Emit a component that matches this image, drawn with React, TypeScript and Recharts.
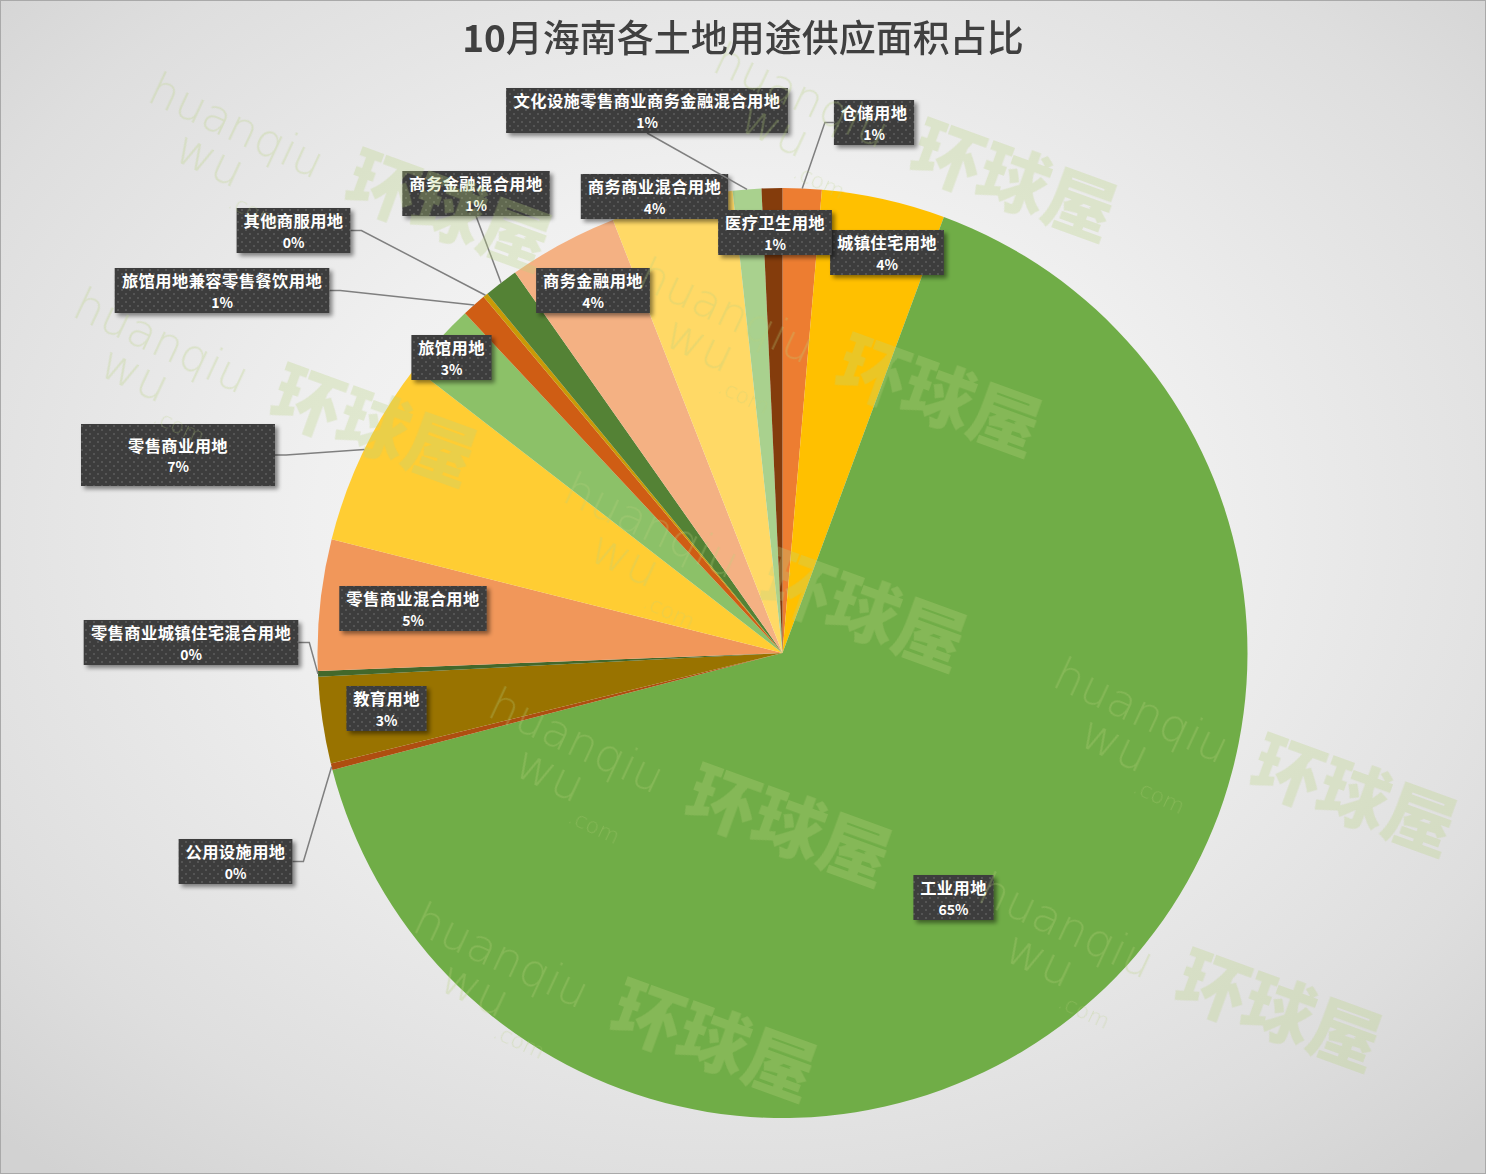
import React from 'react';
import { PieChart, Pie, Cell } from 'recharts';

// ---- data ----
const categories = [
  '仓储用地',
  '城镇住宅用地',
  '工业用地',
  '公用设施用地',
  '教育用地',
  '零售商业城镇住宅混合用地',
  '零售商业混合用地',
  '零售商业用地',
  '旅馆用地',
  '旅馆用地兼容零售餐饮用地',
  '其他商服用地',
  '商务金融混合用地',
  '商务金融用地',
  '商务商业混合用地',
  '文化设施零售商业商务金融混合用地',
  '医疗卫生用地',
];
const shares = [1.35, 4.29, 65.3, 0.23, 3.0, 0.2, 4.55, 6.55, 2.55, 0.85, 0.17, 1.19, 3.81, 4.23, 0.99, 0.72];

const title = '10月海南各土地用途供应面积占比';

// ---- styles / layout ----
const colors = [
  '#ED7D31', '#FFC000', '#70AD47', '#AE4E10', '#997300', '#43682B',
  '#F1975A', '#FFCD33', '#8CC168', '#CF5D14', '#C99A06', '#548235',
  '#F4B183', '#FFD966', '#A9D18E', '#843C0C',
];

type Box = { cx: number; top: number; side: 'left' | 'right' | 'bottom' | null; w?: number; h?: number };
const labelBoxes: Box[] = [
  { cx: 874, top: 100, side: 'left' },
  { cx: 887, top: 230, side: null },
  { cx: 953.5, top: 875, side: null },
  { cx: 235.5, top: 839, side: 'right' },
  { cx: 386.5, top: 686, side: null },
  { cx: 191, top: 620, side: 'right' },
  { cx: 413, top: 586, side: null },
  { cx: 178, top: 424, side: 'right', w: 194, h: 62 },
  { cx: 451.5, top: 335, side: null },
  { cx: 222, top: 268, side: 'right' },
  { cx: 293.5, top: 208, side: 'right' },
  { cx: 476, top: 171, side: 'bottom' },
  { cx: 593, top: 268, side: null },
  { cx: 654.5, top: 174, side: null },
  { cx: 647, top: 88, side: 'bottom' },
  { cx: 775, top: 210, side: null },
];

const data = categories.map((name, i) => ({ name, value: shares[i] }));

const W = 1486;
const H = 1174;
const RAD = Math.PI / 180;
const CJK = '"Noto Sans CJK SC", "Noto Sans", sans-serif';

const renderLabel = (props: any) => {
  const { cx, cy, midAngle, outerRadius, percent, index } = props;
  const box = labelBoxes[index];
  const name = categories[index];
  const w = box.w ?? name.length * 16.8 + 13;
  const h = box.h ?? 45;
  const x0 = box.cx - w / 2;
  const y0 = box.top;
  const px = cx + outerRadius * Math.cos(-midAngle * RAD);
  const py = cy + outerRadius * Math.sin(-midAngle * RAD);
  let leader: string | null = null;
  if (box.side === 'left') {
    const sy = y0 + h / 2;
    leader = `M${x0},${sy} L${x0 - 9},${sy} L${px},${py}`;
  } else if (box.side === 'right') {
    const sy = y0 + h / 2;
    leader = `M${x0 + w},${sy} L${x0 + w + 11},${sy} L${px},${py}`;
  } else if (box.side === 'bottom') {
    leader = `M${box.cx},${y0 + h} L${px},${py}`;
  }
  return (
    <g key={`lbl-${index}`}>
      {index === 0 && (
        <defs>
          <pattern id="dotPat" x="0" y="0" width="8" height="8" patternUnits="userSpaceOnUse">
            <rect x="0" y="0" width="8" height="8" fill="#3d3d3d" />
            <rect x="1" y="1" width="2" height="2" fill="#545454" />
            <rect x="5" y="5" width="2" height="2" fill="#545454" />
          </pattern>
          <filter id="lblShadow" x="-10%" y="-20%" width="130%" height="160%">
            <feDropShadow dx="3" dy="3" stdDeviation="2" floodColor="#000" floodOpacity="0.45" />
          </filter>
        </defs>
      )}
      {leader && <path d={leader} stroke="#7f7f7f" strokeWidth={1.5} fill="none" />}
      <rect x={x0} y={y0} width={w} height={h} fill="url(#dotPat)" filter="url(#lblShadow)" />
      <text
        x={box.cx}
        y={y0 + h / 2 - 10.5}
        textAnchor="middle"
        dominantBaseline="central"
        fill="#ffffff"
        fontFamily={CJK}
        fontWeight={700}
        fontSize={16.3}
        letterSpacing={0.4}
      >
        {name}
      </text>
      <text
        x={box.cx}
        y={y0 + h / 2 + 11}
        textAnchor="middle"
        dominantBaseline="central"
        fill="#ffffff"
        fontFamily={CJK}
        fontWeight={700}
        fontSize={14}
      >
        {`${Math.round(percent * 100)}%`}
      </text>
    </g>
  );
};

const Watermarks = () => {
  const units: { x: number; y: number }[] = [];
  for (let i = -1; i <= 3; i++) {
    for (let j = -1; j <= 6; j++) {
      const x = 230 + i * 565 - j * 75;
      const y = 140 - i * 30 + j * 215;
      // keep only the repeats that lie fully inside the frame
      if (x - 125 < 0 || x + 340 > W || y - 80 < 0 || y + 170 > H) continue;
      units.push({ x, y });
    }
  }
  return (
    <g fill="#b9d27f" opacity={0.3} style={{ pointerEvents: 'none' }}>
      {units.map((u, k) => (
        <g key={k}>
          <g transform={`translate(${u.x},${u.y}) rotate(25)`}>
            <text x={0} y={0} textAnchor="middle" fontFamily='"DejaVu Sans", sans-serif' fontWeight={200} fontSize={46}>
              huanqiu
            </text>
            <text x={-10} y={42} textAnchor="middle" fontFamily='"DejaVu Sans", sans-serif' fontWeight={200} fontSize={48}>
              wu
            </text>
            <text x={52} y={62} textAnchor="middle" fontFamily='"DejaVu Sans", sans-serif' fontWeight={200} fontSize={22}>
              .com
            </text>
          </g>
          <g transform={`translate(${u.x + 210},${u.y + 95}) rotate(20)`}>
            <text x={0} y={0} textAnchor="middle" fontFamily={CJK} fontWeight={900} fontSize={70}>
              环球屋
            </text>
          </g>
        </g>
      ))}
    </g>
  );
};

export default function App() {
  return (
    <div
      style={{
        position: 'absolute',
        left: 0,
        top: 0,
        width: W,
        height: H,
        boxSizing: 'border-box',
        border: '1px solid #a9a9a9',
        background:
          'radial-gradient(ellipse 72% 72% at 50% 45%, #fbfbfb 0%, #f0f0f0 40%, #dedede 80%, #d2d2d2 100%)',
        overflow: 'hidden',
      }}
    >
      <div style={{ position: 'absolute', left: -1, top: -1 }}>
        <PieChart width={W} height={H} margin={{ top: 0, right: 0, bottom: 0, left: 0 }}>
          <Pie
            data={data}
            dataKey="value"
            nameKey="name"
            cx={782.5}
            cy={653}
            outerRadius={465}
            innerRadius={0}
            startAngle={90}
            endAngle={-270}
            stroke="none"
            isAnimationActive={false}
            label={renderLabel}
            labelLine={false}
          >
            {data.map((d, i) => (
              <Cell key={d.name} fill={colors[i]} stroke="none" />
            ))}
          </Pie>
        </PieChart>
      </div>
      <svg
        width={W}
        height={H}
        style={{ position: 'absolute', left: -1, top: -1, pointerEvents: 'none' }}
      >
        <Watermarks />
        <text x={743} y={52} textAnchor="middle" fontFamily={CJK} fontSize={37} fontWeight={500} fill="#404040">
          <tspan fontWeight={700}>10</tspan>
          {title.slice(2)}
        </text>
      </svg>
    </div>
  );
}
